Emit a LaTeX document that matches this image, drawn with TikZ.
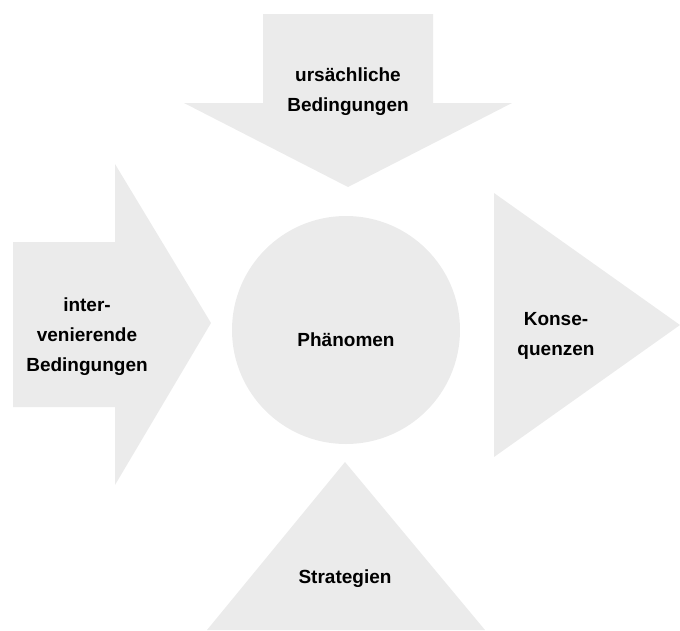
\documentclass[tikz,border=0pt]{standalone}
\usepackage{fontspec}
\setmainfont{Liberation Sans}
\definecolor{shade}{HTML}{EBEBEB}
\begin{document}
\begin{tikzpicture}[x=1pt,y=-1pt,font=\fontsize{19}{30}\selectfont\bfseries]
 \tikzset{form/.style={fill=shade,draw=none},lbl/.style={align=center,inner sep=0pt}}
 \useasboundingbox (0,0) rectangle (680,630);
 % arrow from above
 \fill[form] (263,14)--(433,14)--(433,103)--(512,103)--(348,187)--(184,103)--(263,103)--cycle;
 % arrow from the left
 \fill[form] (13,242)--(115,242)--(115,164)--(211,323)--(115,485)--(115,407)--(13,407)--cycle;
 % triangle right
 \fill[form] (494,193)--(680,325)--(494,457)--cycle;
 % triangle below
 \fill[form] (345,462)--(485,630)--(207,630)--cycle;
 % circle
 \fill[form] (346,330) circle (114);
 \node[lbl] (ursache) at (348,92) {ursächliche\\Bedingungen};
 \node[lbl] (kontext) at (87,337) {inter-\\venierende\\Bedingungen};
 \node[lbl] (phaenomen) at (346,340) {Phänomen};
 \node[lbl] (folgen) at (556,336) {Konse-\\quenzen};
 \node[lbl] (strategie) at (345,579) {Strategien};
\end{tikzpicture}
\end{document}
